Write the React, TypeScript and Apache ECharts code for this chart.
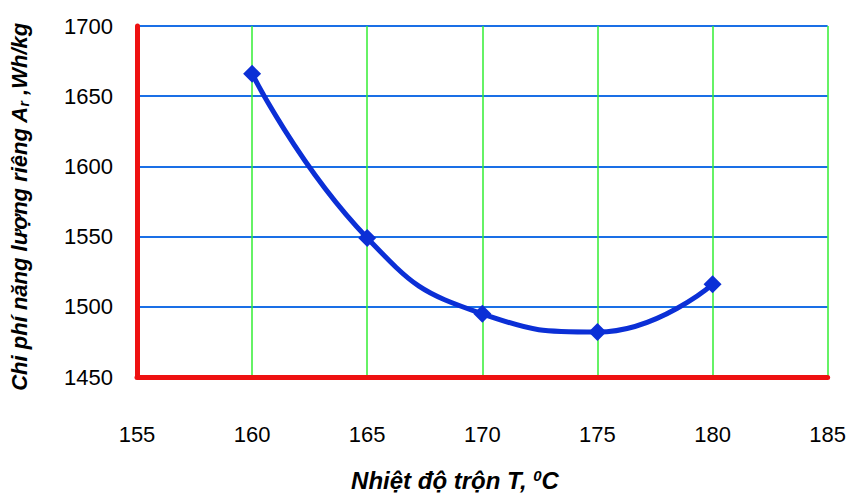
import React, { useEffect, useRef } from "react";
import * as echarts from "echarts";

const temperatures = [160, 165, 170, 175, 180];
const energyCost = [1666, 1549, 1495, 1482, 1516];
const xTicks = { min: 155, max: 185, interval: 5 };
const yTicks = { min: 1450, max: 1700, interval: 50 };
const yTitle = "Chi phí năng lượng riêng A{sub|r} ,Wh/kg";
const xTitle = "Nhiệt độ trộn T, {sup|0}C";

export default function App() {
  const ref = useRef<HTMLDivElement>(null);
  useEffect(() => {
    if (!ref.current) return;
    const chart = echarts.init(ref.current, null, { renderer: "svg" });
    const labelFont = "'Liberation Sans', Arial, sans-serif";
    const titleFont = "'Liberation Sans', Arial, sans-serif";
    chart.setOption({
      animation: false,
      backgroundColor: "#ffffff",
      grid: { left: 137, top: 26, right: 20, bottom: 116 },
      xAxis: {
        type: "value",
        min: xTicks.min,
        max: xTicks.max,
        interval: xTicks.interval,
        axisLine: { show: true, onZero: false, lineStyle: { color: "#ee1111", width: 5 } },
        axisTick: { show: false },
        axisLabel: { color: "#000", fontFamily: labelFont, fontSize: 22, margin: 46, formatter: (v: number) => String(v) },
        splitLine: { show: true, lineStyle: { color: "#33ee33", width: 1.5 } },
      },
      yAxis: {
        type: "value",
        min: yTicks.min,
        max: yTicks.max,
        interval: yTicks.interval,
        axisLine: { show: true, onZero: false, lineStyle: { color: "#ee1111", width: 5 } },
        axisTick: { show: false },
        axisLabel: { color: "#000", fontFamily: labelFont, fontSize: 22, margin: 24, formatter: (v: number) => String(v) },
        splitLine: { show: true, lineStyle: { color: "#1a6fe6", width: 2 } },
      },
      graphic: [
        {
          type: "text",
          x: 19,
          y: 207,
          rotation: Math.PI / 2,
          style: {
            text: yTitle,
            fontFamily: titleFont,
            fontSize: 22,
            fontWeight: "bold",
            fontStyle: "italic",
            fill: "#000",
            align: "center",
            verticalAlign: "middle",
            rich: {
              sub: { fontSize: 14, fontWeight: "bold", fontStyle: "italic", fontFamily: titleFont, verticalAlign: "bottom", padding: [9, 0, 0, 0] },
            },
          },
        },
        {
          type: "text",
          x: 455,
          y: 480,
          style: {
            text: xTitle,
            fontFamily: titleFont,
            fontSize: 24,
            fontWeight: "bold",
            fontStyle: "italic",
            fill: "#000",
            align: "center",
            verticalAlign: "middle",
            rich: {
              sup: { fontSize: 15, fontWeight: "bold", fontStyle: "italic", fontFamily: titleFont, verticalAlign: "top", padding: [0, 0, 10, 0] },
            },
          },
        },
      ],
      series: [
        {
          type: "line",
          data: temperatures.map((t, i) => [t, energyCost[i]]),
          smooth: 0.5,
          symbol: "diamond",
          symbolSize: 18,
          lineStyle: { color: "#0b2fd6", width: 5 },
          itemStyle: { color: "#0b2fd6" },
        },
      ],
    });
    return () => chart.dispose();
  }, []);
  return <div ref={ref} style={{ width: 849, height: 493, position: "absolute", left: 0, top: 0 }} />;
}
